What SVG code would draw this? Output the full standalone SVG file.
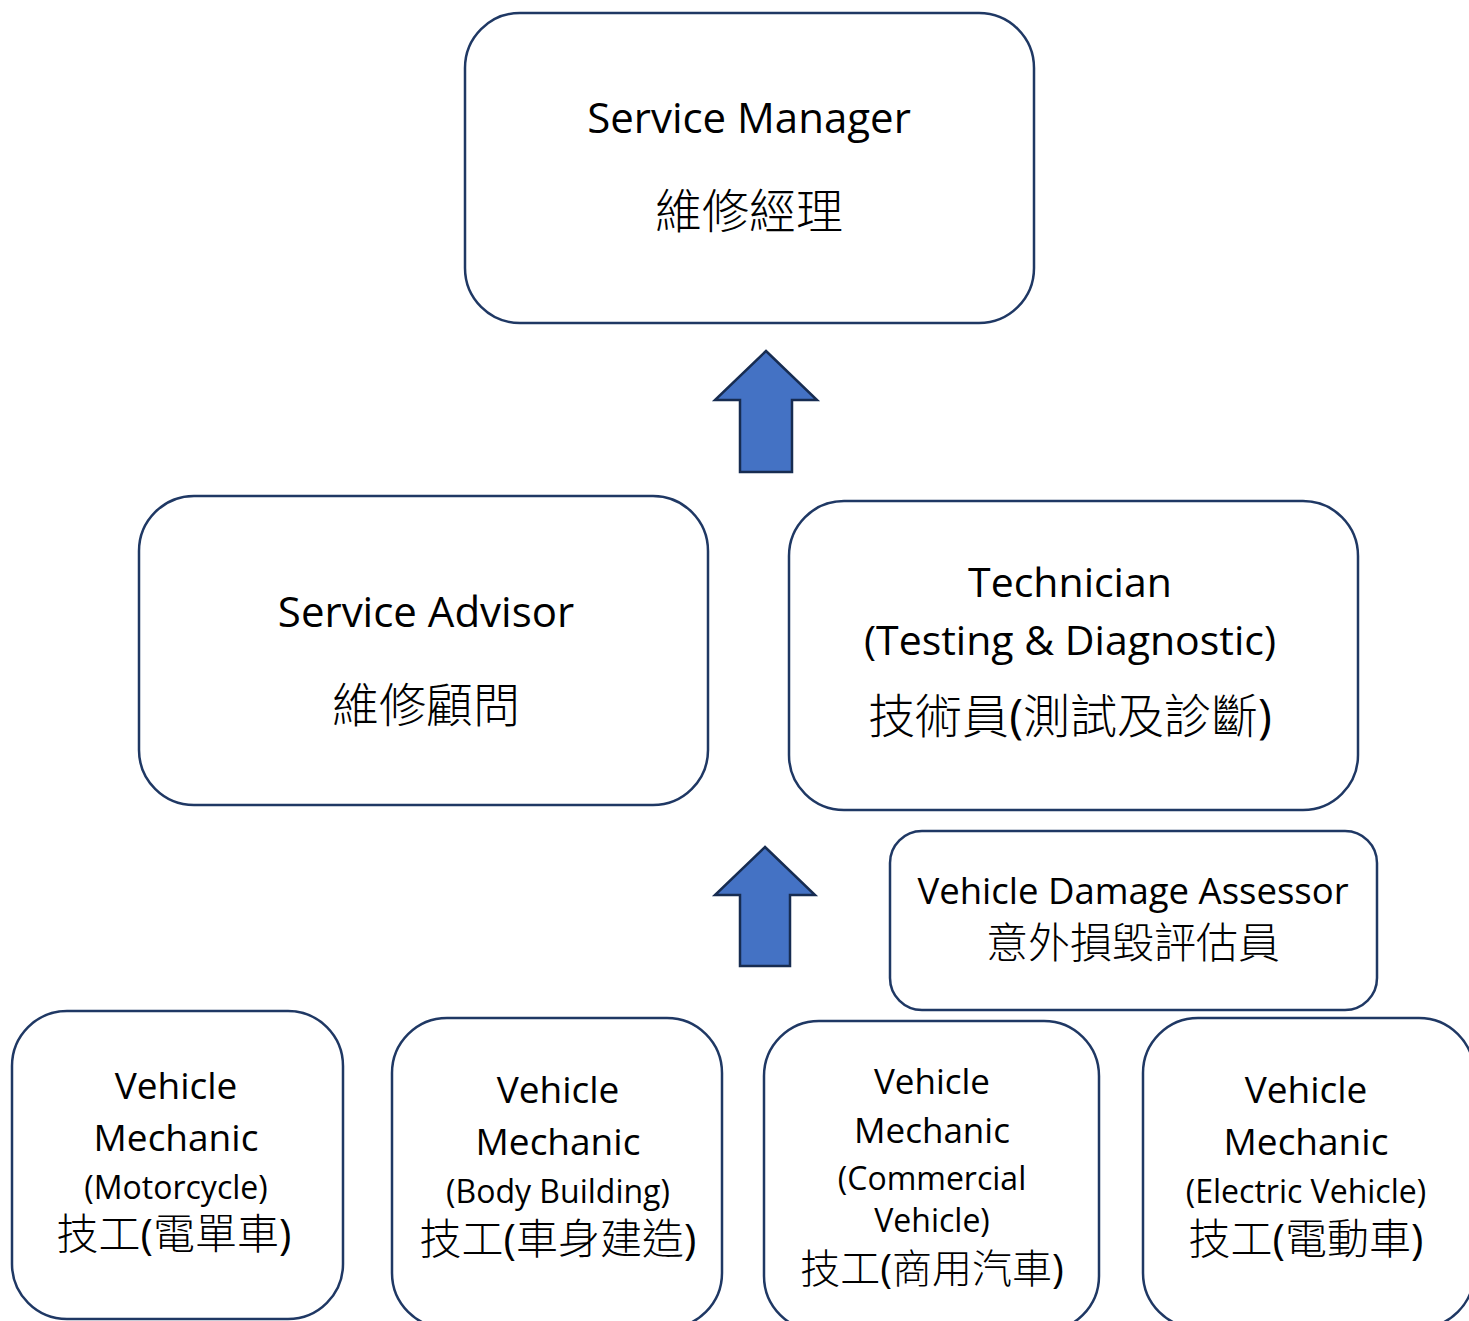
<svg xmlns="http://www.w3.org/2000/svg" width="1469" height="1321" viewBox="0 0 1469 1321">
<style>
.box{fill:#fff;stroke:#1f3864;stroke-width:2.5}
.arr{fill:#4472c4;stroke:#172c51;stroke-width:2.5;stroke-linejoin:miter}
text{font-family:"Open Sans","Noto Sans CJK TC",sans-serif;fill:#000;text-anchor:middle}
.zh{font-family:"Noto Sans CJK TC",sans-serif;font-weight:300}
.p{font-family:"Open Sans",sans-serif;font-weight:400}
</style>
<rect width="1469" height="1321" fill="#fff"/>
<g id="connectors">
<path class="arr" d="M766,351 L817,400 L792,400 L792,472 L740,472 L740,400 L715,400 Z"/>
<path class="arr" d="M765,847 L815,895 L790,895 L790,966 L740,966 L740,895 L715,895 Z"/>
</g>
<g id="service-manager">
<rect class="box" x="465" y="13" width="569" height="310" rx="55"/>
<text x="749" y="133" font-size="42">Service Manager</text>
<text class="zh" x="749" y="228" font-size="47">維修經理</text>
</g>
<g id="service-advisor">
<rect class="box" x="139" y="496" width="569" height="309" rx="55"/>
<text x="426" y="627" font-size="42">Service Advisor</text>
<text class="zh" x="426" y="722" font-size="47">維修顧問</text>
</g>
<g id="technician">
<rect class="box" x="789" y="501" width="569" height="309" rx="55"/>
<text x="1070" y="597" font-size="41">Technician</text>
<text x="1070" y="655" font-size="41">(Testing &amp; Diagnostic)</text>
<text class="zh" x="1070" y="733" font-size="47">技術員<tspan class="p">(</tspan>測試及診斷<tspan class="p">)</tspan></text>
</g>
<g id="damage-assessor">
<rect class="box" x="890" y="831" width="487" height="179" rx="32"/>
<text x="1133" y="904" font-size="36.5">Vehicle Damage Assessor</text>
<text class="zh" x="1133" y="958" font-size="42">意外損毀評估員</text>
</g>
<g id="mechanic-motorcycle">
<rect class="box" x="12" y="1011" width="331" height="308" rx="55"/>
<text x="176" y="1099" font-size="37">Vehicle</text>
<text x="176" y="1151" font-size="37">Mechanic</text>
<text x="176" y="1199" font-size="32">(Motorcycle)</text>
<text class="zh" x="174" y="1249" font-size="42">技工<tspan class="p">(</tspan>電單車<tspan class="p">)</tspan></text>
</g>
<g id="mechanic-body">
<rect class="box" x="392" y="1018" width="330" height="310" rx="55"/>
<text x="558" y="1103" font-size="37">Vehicle</text>
<text x="558" y="1155" font-size="37">Mechanic</text>
<text x="558" y="1203" font-size="32">(Body Building)</text>
<text class="zh" x="558" y="1254" font-size="42">技工<tspan class="p">(</tspan>車身建造<tspan class="p">)</tspan></text>
</g>
<g id="mechanic-commercial">
<rect class="box" x="764" y="1021" width="335" height="310" rx="55"/>
<text x="932" y="1094" font-size="35">Vehicle</text>
<text x="932" y="1143" font-size="35">Mechanic</text>
<text x="932" y="1190" font-size="32">(Commercial</text>
<text x="932" y="1232" font-size="32">Vehicle)</text>
<text class="zh" x="932" y="1283" font-size="40">技工<tspan class="p">(</tspan>商用汽車<tspan class="p">)</tspan></text>
</g>
<g id="mechanic-electric">
<rect class="box" x="1143" y="1018" width="331" height="310" rx="55"/>
<text x="1306" y="1103" font-size="37">Vehicle</text>
<text x="1306" y="1155" font-size="37">Mechanic</text>
<text x="1306" y="1203" font-size="32">(Electric Vehicle)</text>
<text class="zh" x="1306" y="1254" font-size="42">技工<tspan class="p">(</tspan>電動車<tspan class="p">)</tspan></text>
</g>
</svg>
